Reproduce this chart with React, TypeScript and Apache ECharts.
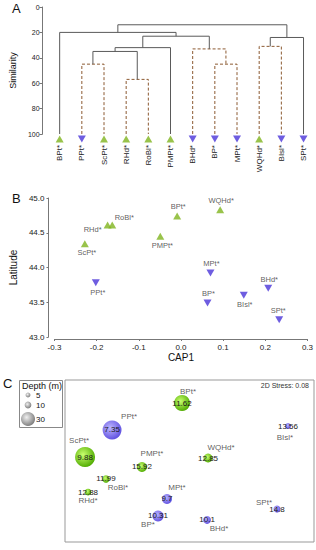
import React, { useEffect, useRef } from "react";
import * as echarts from "echarts";

const FONT = "'Liberation Sans', Arial, sans-serif";

// ---- Panel A: dendrogram ----
const leaves = ["BPt*", "PPt*", "ScPt*", "RHd*", "RoBl*", "PMPt*", "BHd*", "BP*", "MPt*", "WQHd*", "BIsl*", "SPt*"];
const leafRegion = ["N", "S", "N", "N", "N", "N", "S", "S", "S", "N", "S", "S"];
const mergeChildA = [1, 3, 12, 14, 7, 6, 15, 0, 9, 20, 19];
const mergeChildB = [2, 4, 13, 5, 8, 16, 17, 18, 10, 11, 21];
const mergeSimilarity = [45, 57, 35, 32, 45, 33, 23, 20, 31, 24, 14];
const mergeDashed = [1, 1, 0, 0, 1, 1, 0, 0, 1, 0, 0];

// ---- Panel B: CAP1 vs latitude ----
const capSites = ["BPt*", "WQHd*", "RHd*", "RoBl*", "ScPt*", "PMPt*", "PPt*", "MPt*", "BP*", "BIsl*", "BHd*", "SPt*"];
const capRegion = ["N", "N", "N", "N", "N", "N", "S", "S", "S", "S", "S", "S"];
const cap1 = [-0.009, 0.093, -0.174, -0.163, -0.228, -0.049, -0.202, 0.07, 0.063, 0.149, 0.207, 0.233];
const latitude = [44.74, 44.83, 44.61, 44.61, 44.34, 44.45, 43.78, 43.92, 43.49, 43.6, 43.7, 43.25];
const capLabelOffset = [[1, -10], [1, -9], [-15, 4], [12, -8], [2, 9], [2, 9], [2, 10], [1, -10], [1, -9], [1, 9], [1, -9], [-1, -9]];

// ---- Panel C: nMDS bubbles ----
const mdsSites = ["BPt*", "PPt*", "ScPt*", "PMPt*", "WQHd*", "RoBl*", "RHd*", "MPt*", "BP*", "BHd*", "SPt*", "BIsl*"];
const mdsRegion = ["N", "S", "N", "N", "N", "N", "N", "S", "S", "S", "S", "S"];
const mdsX = [-0.06, -0.622, -0.839, -0.382, 0.149, -0.671, -0.815, -0.181, -0.253, 0.141, 0.703, 0.791];
const mdsY = [0.716, 0.383, 0.049, -0.074, 0.037, -0.222, -0.383, -0.469, -0.679, -0.728, -0.593, 0.432];
const depth = [35, 43, 46, 19, 16, 12, 10, 19, 22, 13, 11, 8];
const innerValue = ["11.62", "7.35", "9.88", "15.92", "12.85", "11.99", "12.88", "9.7", "10.31", "10.1", "14.8", "13.56"];
const mdsLabelOffset = [[6, -12], [17, -13], [-6, -17], [10, -13], [13, -11], [12, 9], [0, 8], [10, -11], [-10, 9], [12, 9], [-13, -7], [-3, 11]];
const depthLegend = [5, 10, 30];
const stressText = "2D Stress: 0.08";

const GREEN = "#80b41e";
const BLUE = "#4a35d8";
const bubbleDiam = (d: number) => 3 + 0.37 * d;
const greenGrad = {
  type: "radial", x: 0.4, y: 0.38, r: 0.65,
  colorStops: [{ offset: 0, color: "#c9ff6e" }, { offset: 1, color: "#4faa00" }],
};
const blueGrad = {
  type: "radial", x: 0.4, y: 0.38, r: 0.65,
  colorStops: [{ offset: 0, color: "#bdb6ff" }, { offset: 1, color: "#5f4fe0" }],
};
const grayGrad = {
  type: "radial", x: 0.4, y: 0.38, r: 0.65,
  colorStops: [{ offset: 0, color: "#f0f0f0" }, { offset: 1, color: "#7a7a7a" }],
};

function buildDendro() {
  const nx: number[] = leaves.map((_, i) => i);
  const nh: number[] = leaves.map(() => 100);
  const items: number[][] = [];
  for (let k = 0; k < mergeChildA.length; k++) {
    const a = mergeChildA[k];
    const b = mergeChildB[k];
    const h = mergeSimilarity[k];
    items.push([nx[a], nh[a], nx[b], nh[b], h, mergeDashed[k]]);
    nx.push((nx[a] + nx[b]) / 2);
    nh.push(h);
  }
  return items;
}

export default function App() {
  const ref = useRef<HTMLDivElement>(null);
  useEffect(() => {
    if (!ref.current) return;
    const chart = echarts.init(ref.current, null, { renderer: "svg" });
    const dendro = buildDendro();

    const leafN = leaves.map((_, i) => i).filter((i) => leafRegion[i] === "N").map((i) => [i, 100]);
    const leafS = leaves.map((_, i) => i).filter((i) => leafRegion[i] === "S").map((i) => [i, 100]);

    const capPoint = (i: number) => ({
      value: [cap1[i], latitude[i]],
      name: capSites[i],
      label: { offset: capLabelOffset[i] },
    });
    const capN = capSites.map((_, i) => i).filter((i) => capRegion[i] === "N").map(capPoint);
    const capS = capSites.map((_, i) => i).filter((i) => capRegion[i] === "S").map(capPoint);

    const bubbles = mdsSites.map((s, i) => ({
      value: [mdsX[i], mdsY[i]],
      name: innerValue[i],
      symbolSize: bubbleDiam(depth[i]),
      itemStyle: { color: mdsRegion[i] === "N" ? greenGrad : blueGrad },
    }));
    const mdsNames = mdsSites.map((s, i) => ({
      value: [mdsX[i], mdsY[i]],
      name: s,
      label: { offset: mdsLabelOffset[i] },
    }));

    const legendY = [395, 405, 419];
    const graphic: any[] = [
      { type: "text", left: 12, top: 2, style: { text: "A", fontSize: 13, fontFamily: FONT, fill: "#111" } },
      { type: "text", left: 12, top: 192, style: { text: "B", fontSize: 13, fontFamily: FONT, fill: "#111" } },
      { type: "text", left: 3, top: 377, style: { text: "C", fontSize: 13, fontFamily: FONT, fill: "#111" } },
      { type: "rect", shape: { x: 19.5, y: 380.5, width: 43, height: 47 }, style: { fill: "#fff", stroke: "#888", lineWidth: 1 } },
      { type: "text", x: 22, y: 381, style: { text: "Depth (m)", fontSize: 9, fontFamily: FONT, fill: "#111" } },
      { type: "text", x: 309, y: 385, style: { text: stressText, fontSize: 7, fontFamily: FONT, fill: "#333", align: "right", verticalAlign: "middle" } },
    ];
    depthLegend.forEach((d, i) => {
      graphic.push({ type: "circle", shape: { cx: 28, cy: legendY[i], r: bubbleDiam(d) / 2 }, style: { fill: grayGrad } });
      graphic.push({ type: "text", x: 36, y: legendY[i], style: { text: String(d), fontSize: 8, fontFamily: FONT, fill: "#111", verticalAlign: "middle" } });
    });

    const option: any = {
      animation: false,
      textStyle: { fontFamily: FONT },
      grid: [
        { left: 45.8, top: 7, width: 268.8, height: 127 },
        { left: 52, top: 198, width: 258, height: 139 },
        { left: 65, top: 380, width: 249, height: 162, show: true, borderColor: "#999", borderWidth: 1, backgroundColor: "transparent" },
      ],
      xAxis: [
        {
          type: "category", gridIndex: 0, data: leaves, boundaryGap: true,
          axisLine: { show: false, onZero: false }, axisTick: { show: false },
          axisLabel: { rotate: 90, fontSize: 8, color: "#222", margin: 11, interval: 0, fontFamily: FONT },
        },
        { type: "value", gridIndex: 0, min: -0.5, max: 11.5, show: false, axisLine: { onZero: false } },
        {
          type: "value", gridIndex: 1, min: -0.3, max: 0.3, interval: 0.1, offset: 2,
          name: "CAP1", nameLocation: "middle", nameGap: 13,
          nameTextStyle: { fontSize: 10, color: "#111", fontFamily: FONT },
          axisLine: { show: true, onZero: false, lineStyle: { color: "#777" } },
          axisTick: { show: true, length: 2, lineStyle: { color: "#777" } },
          splitLine: { show: false },
          axisLabel: { fontSize: 8, color: "#222", margin: 4, formatter: (v: number) => v.toFixed(1), fontFamily: FONT },
        },
        { type: "value", gridIndex: 2, min: -1, max: 1, show: false, splitLine: { show: false }, axisLine: { onZero: false } },
      ],
      yAxis: [
        {
          type: "value", gridIndex: 0, min: 0, max: 100, interval: 20, inverse: true, offset: 6,
          name: "Similarity", nameLocation: "middle", nameGap: 17,
          nameTextStyle: { fontSize: 9, color: "#111", fontFamily: FONT },
          axisLine: { show: true, onZero: false, lineStyle: { color: "#777" } },
          axisTick: { show: true, length: 3, lineStyle: { color: "#777" } },
          splitLine: { show: false },
          axisLabel: { fontSize: 7, color: "#222", margin: 3, fontFamily: FONT },
        },
        {
          type: "value", gridIndex: 1, min: 43, max: 45, interval: 0.5, offset: 6,
          name: "Latitude", nameLocation: "middle", nameGap: 22,
          nameTextStyle: { fontSize: 10, color: "#111", fontFamily: FONT },
          axisLine: { show: true, onZero: false, lineStyle: { color: "#777" } },
          axisTick: { show: true, length: 2, lineStyle: { color: "#777" } },
          splitLine: { show: false },
          axisLabel: { fontSize: 8, color: "#222", margin: 4, formatter: (v: number) => v.toFixed(1), fontFamily: FONT },
        },
        { type: "value", gridIndex: 2, min: -1, max: 1, show: false, splitLine: { show: false }, axisLine: { onZero: false } },
      ],
      graphic,
      series: [
        {
          type: "custom", xAxisIndex: 1, yAxisIndex: 0, data: dendro, silent: true,
          renderItem: (params: any, api: any) => {
            const xa = api.value(0), ha = api.value(1), xb = api.value(2), hb = api.value(3), hm = api.value(4), dashed = api.value(5);
            const pts = [api.coord([xa, ha]), api.coord([xa, hm]), api.coord([xb, hm]), api.coord([xb, hb])];
            return {
              type: "polyline",
              shape: { points: pts },
              style: dashed
                ? { stroke: "#8c5a32", lineWidth: 1, lineDash: [3, 2], fill: null }
                : { stroke: "#5a5a5a", lineWidth: 1, fill: null },
            };
          },
        },
        {
          type: "scatter", xAxisIndex: 0, yAxisIndex: 0, data: leafN, symbol: "triangle",
          symbolSize: [8, 7], symbolOffset: [0, 5], itemStyle: { color: GREEN }, z: 5,
        },
        {
          type: "scatter", xAxisIndex: 0, yAxisIndex: 0, data: leafS, symbol: "triangle", symbolRotate: 180,
          symbolSize: [8, 7], symbolOffset: [0, 5], itemStyle: { color: BLUE }, z: 5,
        },
        {
          type: "scatter", xAxisIndex: 2, yAxisIndex: 1, data: capN, symbol: "triangle", symbolSize: [8, 7],
          itemStyle: { color: GREEN },
          label: { show: true, position: "inside", formatter: "{b}", fontSize: 7.5, color: "#333", fontFamily: FONT },
        },
        {
          type: "scatter", xAxisIndex: 2, yAxisIndex: 1, data: capS, symbol: "triangle", symbolRotate: 180, symbolSize: [8, 7],
          itemStyle: { color: BLUE },
          label: { show: true, position: "inside", formatter: "{b}", fontSize: 7.5, color: "#333", fontFamily: FONT },
        },
        {
          type: "scatter", xAxisIndex: 3, yAxisIndex: 2, data: bubbles,
          itemStyle: { opacity: 1 },
          label: { show: true, position: "inside", formatter: "{b}", fontSize: 8, color: "#1a1a1a", fontFamily: FONT },
        },
        {
          type: "scatter", xAxisIndex: 3, yAxisIndex: 2, data: mdsNames, symbolSize: 0, z: 6,
          label: { show: true, position: "inside", formatter: "{b}", fontSize: 8, color: "#333", fontFamily: FONT },
        },
      ],
    };
    chart.setOption(option);
    return () => chart.dispose();
  }, []);
  return <div ref={ref} style={{ position: "absolute", left: 0, top: 0, width: 316, height: 550, background: "#fff" }} />;
}
